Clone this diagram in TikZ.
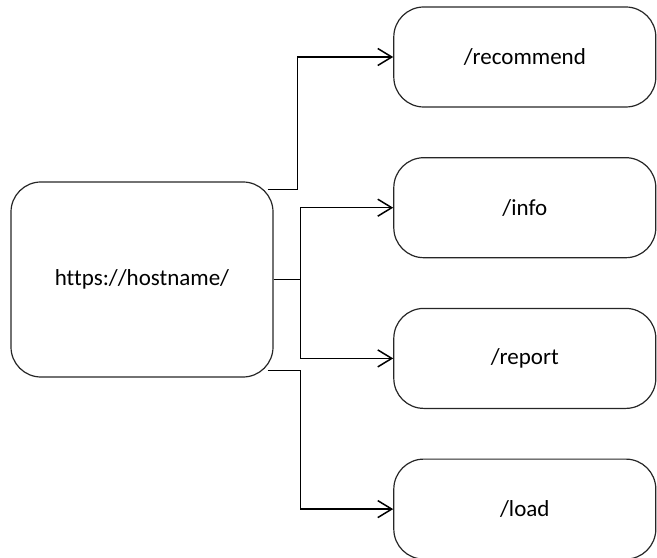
\documentclass[tikz,border=0pt]{standalone}
\usepackage{fontspec}
\setmainfont{Carlito}[Ligatures=NoCommon]
\usetikzlibrary{arrows.meta, positioning, calc}

\begin{document}
\begin{tikzpicture}[
    x=1pt, y=1pt,
    node distance=24.75pt,
    font=\fontsize{11.5}{14}\selectfont,
    % Estilo para las cajas de rutas
    route/.style={
        draw=black!85,
        line width=0.6pt,
        rounded corners=15pt,
        minimum height=50pt,
        minimum width=131pt,
        align=center
    },
    % Estilo para la caja del host
    hostbox/.style={
        route,
        minimum height=97.5pt
    },
    % Estilo para flechas
    arrow/.style={
        -{Straight Barb[length=7pt, width=8.5pt]},
        line width=0.75pt,
        black
    }
]
    \useasboundingbox (0,0) rectangle (328.5,278.5);

    % --- 1. Host ---
    \node[hostbox] (host) at (71,138.75) {https://hostname/};

    % --- 2. Rutas (Derecha) ---
    \node[route] (recommend) at (262.4,250) {/recommend};
    \node[route, below=of recommend] (info) {/info};
    \node[route, below=of info] (report) {/report};
    \node[route, below=of report] (load) {/load};

    % --- 3. Conexiones ---
    \draw[arrow] ($(host.north east)+(-3,-4)$) -- ++(15,0) |- (recommend.west);
    \draw[arrow] (host.east) -- ++(13.5,0) |- (info.west);
    \draw[arrow] (host.east) -- ++(13.5,0) |- (report.west);
    \draw[arrow] ($(host.south east)+(-3,3.5)$) -- ++(16.5,0) |- (load.west);

\end{tikzpicture}
\end{document}
